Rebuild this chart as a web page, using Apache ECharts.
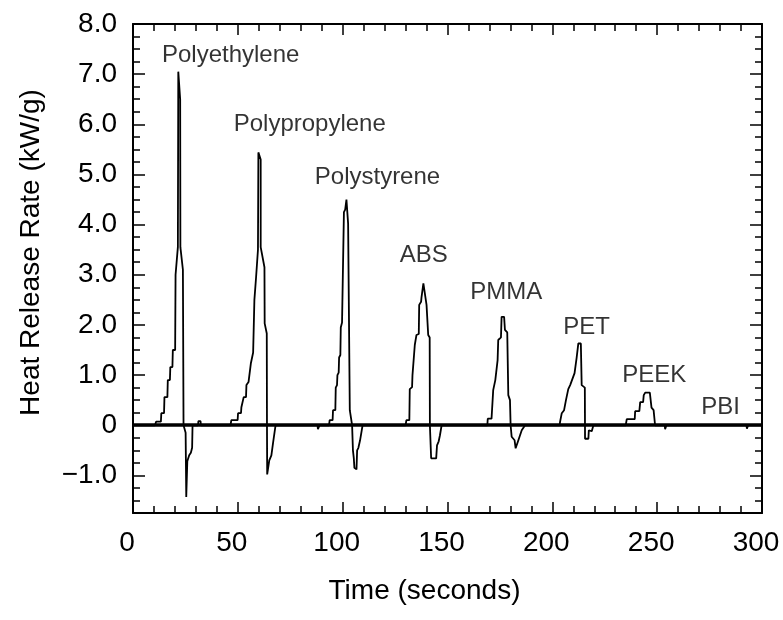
<!DOCTYPE html>
<html>
<head>
<meta charset="utf-8">
<script src="https://cdn.jsdelivr.net/npm/echarts@6.0.0/dist/echarts.min.js"></script>
<style>
  html, body { margin: 0; padding: 0; background: #fff; }
  #main { width: 783px; height: 620px; }
</style>
</head>
<body>
<div id="main"></div>
<script>
// tick positions
var xMajor = [0, 50, 100, 150, 200, 250, 300];
var xMinor = [10, 20, 30, 40, 60, 70, 80, 90, 110, 120, 130, 140, 160, 170, 180, 190,
              210, 220, 230, 240, 260, 270, 280, 290];
var yMajor = [-1, 0, 1, 2, 3, 4, 5, 6, 7, 8];
var yMinor = [-1.5, -1.25, -0.75, -0.5, -0.25, 0.25, 0.5, 0.75, 1.25, 1.5, 1.75,
              2.25, 2.5, 2.75, 3.25, 3.5, 3.75, 4.25, 4.5, 4.75, 5.25, 5.5, 5.75,
              6.25, 6.5, 6.75, 7.25, 7.5, 7.75];

// heat release rate traces, [time s, kW/g]
var polyethylene = [[0, 0], [10.5, 0], [11, 0.07], [13.3, 0.07], [13.5, 0.24], [14.8, 0.24],
  [15, 0.56], [16.4, 0.56], [16.6, 0.9], [17.6, 0.9], [17.8, 1.16], [18.8, 1.16], [19, 1.5],
  [20.1, 1.5], [20.3, 3.0], [21.4, 3.55], [21.6, 7.05], [21.9, 7.05], [22.5, 6.5], [22.6, 3.55],
  [23.8, 3.1], [24.1, 0], [25.1, -0.15], [25.4, -1.43], [25.7, -1.43], [25.9, -0.72],
  [26.8, -0.6], [27.6, -0.55], [28.2, -0.45], [28.4, 0], [31, 0], [31.2, 0.08], [32.2, 0.08], [32.4, 0]];
var polypropylene = [[46.5, 0], [46.9, 0.1], [49.9, 0.1], [50.1, 0.24], [51.5, 0.24], [51.7, 0.36],
  [52.6, 0.36], [52.8, 0.56], [53.9, 0.56], [54.1, 0.8], [55.1, 0.86], [55.9, 0.86], [56.2, 1.23],
  [57.3, 1.45], [57.9, 2.5], [58.7, 2.95], [59.6, 3.5], [59.8, 5.44], [60.7, 5.44], [60.9, 5.3],
  [60.9, 3.55], [62.7, 3.15], [62.8, 2.03], [63.8, 1.83], [63.9, 0], [64, -0.98], [64.8, -0.98],
  [65, -0.7], [66, -0.6], [66.8, -0.35], [68, 0]];
var polystyrene = [[88, 0], [88.2, -0.08], [88.8, -0.08], [89, 0], [93.5, 0], [93.8, 0.1], [95.2, 0.1],
  [95.4, 0.3], [96.5, 0.3], [96.7, 0.75], [97.3, 0.8], [97.5, 1.0], [98.1, 1.05], [98.3, 1.35],
  [98.9, 1.4], [99.1, 1.95], [99.7, 2.05], [100.6, 4.25], [101.2, 4.3], [101.8, 4.5], [102.2, 4.5],
  [102.6, 4.02], [103.3, 4.02], [103.4, 0.3], [104.5, 0], [104.9, -0.5], [105.3, -0.65],
  [105.6, -0.85], [106.6, -0.88], [106.9, -0.5], [107.5, -0.45], [108.3, -0.3], [109.5, 0]];
var abs = [[130, 0], [130.4, 0.1], [131.8, 0.1], [132, 0.72], [133.1, 0.76], [133.3, 1.0],
  [134.2, 1.02], [134.4, 1.6], [135, 1.62], [135.2, 1.8], [136.3, 1.82], [136.5, 2.4], [137.4, 2.46],
  [137.6, 2.55], [138.5, 2.83], [138.9, 2.83], [140, 2.4], [140.8, 1.8], [141.5, 1.75],
  [141.6, 0], [142.2, -0.66], [144.6, -0.66], [145, -0.4], [145.8, -0.32], [146.4, -0.2], [147.2, 0]];
var pmma = [[169, 0], [169.2, 0.13], [171, 0.13], [171.8, 0.7], [172.8, 0.9], [173.2, 0.9],
  [173.9, 1.3], [174.2, 1.7], [175.5, 1.75], [175.8, 2.16], [177, 2.16], [177.4, 1.9], [178.5, 1.85],
  [179, 0.6], [179.8, 0.5], [180.1, 0], [180.6, -0.23], [182, -0.3], [182.5, -0.46], [183.8, -0.3],
  [185.4, -0.1], [187, 0]];
var pet = [[203.5, 0], [203.7, 0.07], [204.5, 0.24], [205.6, 0.3], [206.5, 0.5], [207.6, 0.72],
  [208.5, 0.8], [210.6, 1.04], [211.6, 1.35], [212.4, 1.63], [213.6, 1.63], [214, 0.8],
  [215.5, 0.75], [215.6, -0.27], [217.2, -0.27], [217.4, -0.1], [218.8, -0.12], [219.6, 0]];
var peek = [[235, 0], [235.5, 0.12], [239.3, 0.12], [239.5, 0.28], [241.5, 0.28], [241.9, 0.46],
  [243.3, 0.46], [243.6, 0.6], [244.3, 0.65], [246.5, 0.65], [247.3, 0.35], [248.3, 0.3], [249, 0],
  [253.6, 0], [253.8, -0.08], [254.2, -0.08], [254.4, 0]];
var pbi = [[280, 0], [292.6, 0], [292.8, -0.07], [293.2, -0.07], [293.4, 0], [300, 0]];

// polymer name labels, anchored in data coords
var polymerNames = ['Polyethylene', 'Polypropylene', 'Polystyrene', 'ABS', 'PMMA', 'PET', 'PEEK', 'PBI'];
var labelAt = [[46.6, 7.38], [84.3, 5.99], [116.6, 4.95], [138.7, 3.39], [178, 2.64],
  [216.3, 1.96], [248.6, 1.0], [280.3, 0.35]];

var hrr = [].concat(polyethylene, polypropylene, polystyrene, abs, pmma, pet, peek, pbi);

var FONT = "'Liberation Sans', Arial, Helvetica, sans-serif";
var gridBox = { left: 133, right: 21, top: 24, bottom: 107 };

function yFmt(v) {
  if (v === 0) return '0';
  var s = Math.abs(v).toFixed(1);
  return v < 0 ? '\u2212' + s : s;
}

var frame = { show: true, onZero: false, lineStyle: { color: '#000', width: 2 } };
var noLine = { show: false, onZero: false };

var myChart = echarts.init(document.getElementById('main'));
var option = {
  backgroundColor: '#fff',
  animation: false,
  grid: [
    Object.assign({}, gridBox),
    Object.assign({}, gridBox)
  ],
  xAxis: [
    {
      gridIndex: 0, type: 'value', min: 0, max: 300, position: 'bottom',
      axisLine: frame,
      axisTick: { inside: true, length: 11, lineStyle: { color: '#000', width: 1.5 }, customValues: xMajor },
      axisLabel: { customValues: xMajor, fontSize: 28, color: '#000', fontFamily: FONT, margin: 16,
                   padding: [0, 12, 0, 0] },
      splitLine: { show: false },
      name: 'Time (seconds)', nameLocation: 'middle', nameGap: 64,
      nameTextStyle: { fontSize: 28, color: '#000', fontFamily: FONT, padding: [0, 46, 0, 0] }
    },
    {
      gridIndex: 0, type: 'value', min: 0, max: 300, position: 'top',
      axisLine: frame,
      axisTick: { inside: true, length: 11, lineStyle: { color: '#000', width: 1.5 }, customValues: xMajor },
      axisLabel: { show: false },
      splitLine: { show: false }
    },
    {
      gridIndex: 1, type: 'value', min: 0, max: 300, position: 'bottom',
      axisLine: noLine,
      axisTick: { inside: true, length: 7, lineStyle: { color: '#000', width: 1.5 }, customValues: xMinor },
      axisLabel: { show: false },
      splitLine: { show: false }
    },
    {
      gridIndex: 1, type: 'value', min: 0, max: 300, position: 'top',
      axisLine: noLine,
      axisTick: { inside: true, length: 7, lineStyle: { color: '#000', width: 1.5 }, customValues: xMinor },
      axisLabel: { show: false },
      splitLine: { show: false }
    }
  ],
  yAxis: [
    {
      gridIndex: 0, type: 'value', min: -1.75, max: 8, position: 'left',
      axisLine: frame,
      axisTick: { inside: true, length: 12, lineStyle: { color: '#000', width: 1.5 }, customValues: yMajor },
      axisLabel: { customValues: yMajor, formatter: yFmt, fontSize: 28, color: '#000',
                   fontFamily: FONT, margin: 16 },
      splitLine: { show: false },
      name: 'Heat Release Rate (kW/g)', nameLocation: 'middle', nameGap: 88, nameRotate: 90,
      nameTextStyle: { fontSize: 28, color: '#000', fontFamily: FONT, padding: [0, 0, 0, 32] }
    },
    {
      gridIndex: 0, type: 'value', min: -1.75, max: 8, position: 'right',
      axisLine: frame,
      axisTick: { inside: true, length: 12, lineStyle: { color: '#000', width: 1.5 }, customValues: yMajor },
      axisLabel: { show: false },
      splitLine: { show: false }
    },
    {
      gridIndex: 1, type: 'value', min: -1.75, max: 8, position: 'left',
      axisLine: noLine,
      axisTick: { inside: true, length: 7, lineStyle: { color: '#000', width: 1.5 }, customValues: yMinor },
      axisLabel: { show: false },
      splitLine: { show: false }
    },
    {
      gridIndex: 1, type: 'value', min: -1.75, max: 8, position: 'right',
      axisLine: noLine,
      axisTick: { inside: true, length: 7, lineStyle: { color: '#000', width: 1.5 }, customValues: yMinor },
      axisLabel: { show: false },
      splitLine: { show: false }
    }
  ],
  series: [
    {
      type: 'line',
      xAxisIndex: 0, yAxisIndex: 0,
      data: hrr,
      showSymbol: false,
      symbol: 'none',
      lineStyle: { color: '#000', width: 1.8 },
      markLine: {
        silent: true, symbol: 'none',
        label: { show: false },
        lineStyle: { color: '#000', width: 3.5, type: 'solid' },
        data: [{ yAxis: 0 }]
      }
    },
    {
      type: 'scatter',
      xAxisIndex: 0, yAxisIndex: 0,
      symbolSize: 1,
      itemStyle: { color: 'rgba(0,0,0,0)' },
      data: labelAt.map(function (p, i) { return { value: p, name: polymerNames[i] }; }),
      label: {
        show: true, position: 'inside', formatter: '{b}',
        fontSize: 24, color: '#000', fontFamily: FONT
      }
    }
  ]
};
myChart.setOption(option);
</script>
</body>
</html>
